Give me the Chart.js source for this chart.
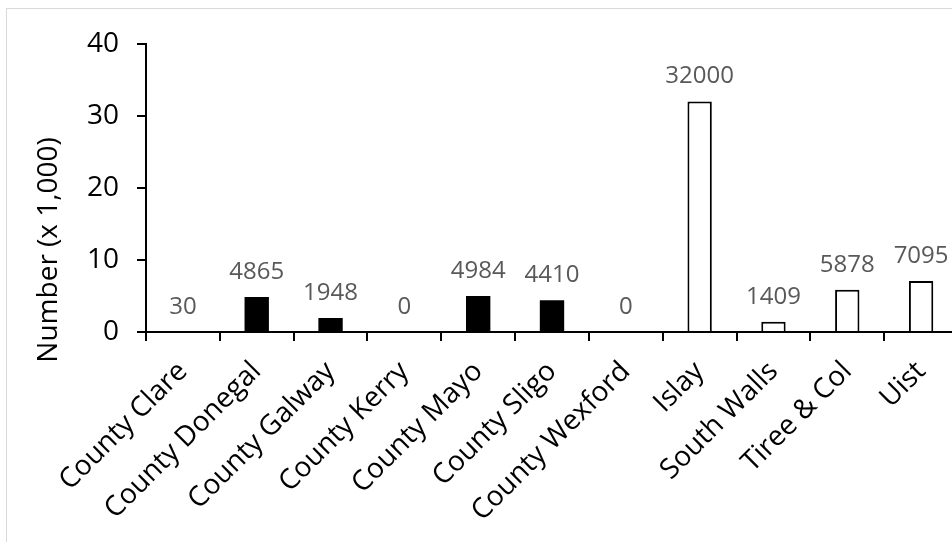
<!DOCTYPE html>
<html>
<head>
<meta charset="utf-8">
<script src="https://cdn.jsdelivr.net/npm/chart.js@4"></script>
<style>
  html, body { margin: 0; padding: 0; background: #fff; overflow: hidden; }
  #wrap {
    position: absolute; left: 6px; top: 8px;
    border-left: 1px solid #d9d9d9; border-top: 1px solid #d9d9d9;
    width: 970px; height: 560px;
  }
</style>
</head>
<body>
<div id="wrap"><canvas id="graphe"></canvas></div>
<script>
// Sites et effectifs (nombre d'oiseaux)
const sites = ['County Clare', 'County Donegal', 'County Galway', 'County Kerry', 'County Mayo',
  'County Sligo', 'County Wexford', 'Islay', 'South Walls', 'Tiree & Col', 'Uist'];
const counts = [30, 4865, 1948, 0, 4984, 4410, 0, 32000, 1409, 5878, 7095];
const regions = ['IE', 'IE', 'IE', 'IE', 'IE', 'IE', 'IE', 'SC', 'SC', 'SC', 'SC'];
const yTicks = [0, 10, 20, 30, 40];

// valeurs en milliers pour l'axe y
const thousands = counts.map(c => c / 1000);

const font = 'Open Sans';

// étiquettes de données au-dessus des barres
const barLabels = {
  id: 'barLabels',
  afterDatasetsDraw(chart) {
    const ctx = chart.ctx;
    const meta = chart.getDatasetMeta(0);
    ctx.save();
    ctx.fillStyle = '#595959';
    ctx.font = '24px "' + font + '"';
    ctx.textAlign = 'center';
    ctx.textBaseline = 'alphabetic';
    meta.data.forEach((bar, i) => {
      ctx.fillText(String(counts[i]), bar.x, bar.y - 18);
    });
    ctx.restore();
  }
};

// titre de l'axe y (décalé vers le bas comme dans Excel)
const yTitle = {
  id: 'yTitle',
  afterDraw(chart) {
    const ctx = chart.ctx;
    const area = chart.chartArea;
    ctx.save();
    ctx.translate(42, (area.top + area.bottom) / 2 + 62);
    ctx.rotate(-Math.PI / 2);
    ctx.fillStyle = '#000';
    ctx.font = '28px "' + font + '"';
    ctx.textAlign = 'center';
    ctx.textBaseline = 'middle';
    ctx.fillText('Number (x 1,000)', 0, 0);
    ctx.restore();
  }
};

const ctx = document.getElementById('graphe').getContext('2d');
new Chart(ctx, {
  type: 'bar',
  data: {
    labels: sites,
    datasets: [{
      label: 'Number',
      data: thousands,
      backgroundColor: regions.map(r => r === 'IE' ? '#000' : '#fff'),
      borderColor: '#000',
      borderWidth: regions.map(r => r === 'IE' ? 0 : 2),
      barPercentage: 0.33,
      categoryPercentage: 1
    }]
  },
  options: {
    responsive: true,
    maintainAspectRatio: false,
    animation: false,
    layout: { padding: { top: 27, right: 19, left: 0, bottom: 0 } },
    plugins: {
      legend: { display: false },
      tooltip: { enabled: false }
    },
    scales: {
      x: {
        grid: { drawOnChartArea: false, drawTicks: true, tickLength: 9, color: '#000', lineWidth: 2 },
        border: { display: true, color: '#000', width: 2 },
        ticks: {
          color: '#000',
          font: { family: font, size: 28 },
          maxRotation: 45, minRotation: 45,
          autoSkip: false,
          padding: 14
        },
        afterFit(scale) { scale.height = 237; }
      },
      y: {
        min: yTicks[0],
        max: yTicks[yTicks.length - 1],
        grid: { drawOnChartArea: false, drawTicks: true, tickLength: 9, color: '#000', lineWidth: 2 },
        border: { display: true, color: '#000', width: 2 },
        ticks: {
          stepSize: 10,
          color: '#000',
          font: { family: font, size: 28 },
          padding: 18
        },
        afterFit(scale) { scale.width = 139; }
      }
    }
  },
  plugins: [barLabels, yTitle]
});
</script>
</body>
</html>
